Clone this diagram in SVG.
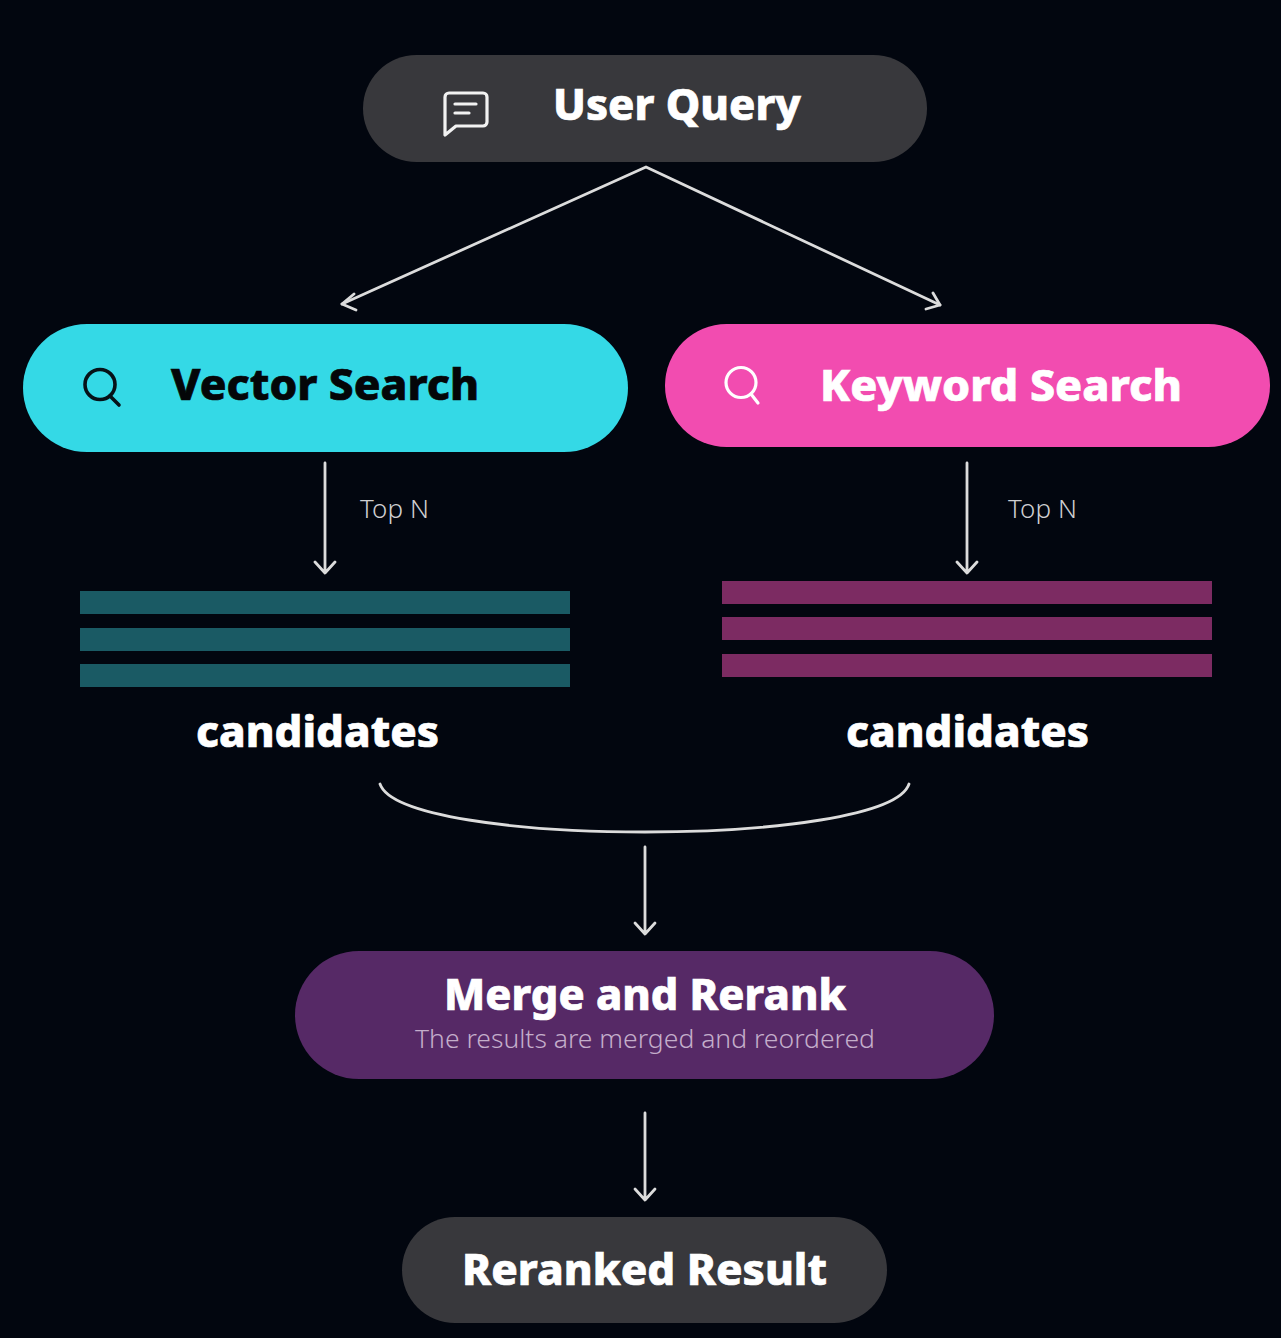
<svg xmlns="http://www.w3.org/2000/svg" width="1281" height="1338" viewBox="0 0 1281 1338">
<style>
.h{font-family:"Noto Sans","Open Sans","Liberation Sans",sans-serif;font-weight:800;font-size:43px;fill:#fff;stroke:#fff;stroke-width:.7}
.t{font-family:"Noto Sans","Open Sans","Liberation Sans",sans-serif;font-weight:300;font-size:26px;fill:#cfcfd2}
.c{fill:none;stroke:#dcdcdc;stroke-width:2.8;stroke-linecap:round;stroke-linejoin:round}
.i{fill:none;stroke-width:3.2;stroke-linecap:round;stroke-linejoin:round}
</style>
<rect width="1281" height="1338" fill="#02060f"/>
<g id="connectors" class="c">
<path d="M342 304L646 167L940 305"/>
<path d="M354 294L342 304L356 310M926 309L940 305L933 293"/>
<path d="M325 463V572M315 562L325 573L335 562"/>
<path d="M967 463V572M957 562L967 573L977 562"/>
<path d="M380 784C402 848 888 848 909 784"/>
<path d="M645 847V933M635 923L645 934L655 923"/>
<path d="M645 1113V1199M635 1189L645 1200L655 1189"/>
</g>
<g id="user-query">
<rect x="363" y="55" width="564" height="107" rx="53.5" fill="#38383c"/>
<path class="i" stroke="#f2f2f2" d="M449 93H483a4 4 0 0 1 4 4V122a4 4 0 0 1-4 4H456L445 135V97a4 4 0 0 1 4-4Z"/>
<path class="i" stroke="#f2f2f2" d="M455 104H476M455 113H469"/>
<text class="h" x="553" y="120" textLength="248" lengthAdjust="spacingAndGlyphs">User Query</text>
</g>
<g id="vector-search">
<rect x="23" y="324" width="605" height="128" rx="64" fill="#34d9e6"/>
<circle cx="100" cy="384.5" r="15" class="i" stroke="#061218" style="stroke-width:3.6"/>
<path class="i" stroke="#061218" style="stroke-width:3.6" d="M110 396L119 405"/>
<text class="h" x="171" y="400" textLength="308" lengthAdjust="spacingAndGlyphs" style="fill:#040608;stroke:#040608">Vector Search</text>
</g>
<g id="keyword-search">
<rect x="665" y="324" width="605" height="123" rx="61.5" fill="#f24cb0"/>
<circle cx="741" cy="382.5" r="15" class="i" stroke="#fff"/>
<path class="i" stroke="#fff" d="M751 394L758 403"/>
<text class="h" x="820" y="401" textLength="362" lengthAdjust="spacingAndGlyphs">Keyword Search</text>
</g>
<g id="edge-label-left"><text class="t" x="360" y="518" textLength="69">Top N</text></g>
<g id="edge-label-right"><text class="t" x="1008" y="518" textLength="69">Top N</text></g>
<g id="candidates-vector" fill="#1a5a64">
<rect x="80" y="591" width="490" height="23"/>
<rect x="80" y="628" width="490" height="23"/>
<rect x="80" y="664" width="490" height="23"/>
<text class="h" x="196" y="747" textLength="243" lengthAdjust="spacingAndGlyphs">candidates</text>
</g>
<g id="candidates-keyword" fill="#7c2b62">
<rect x="722" y="581" width="490" height="23"/>
<rect x="722" y="617" width="490" height="23"/>
<rect x="722" y="654" width="490" height="23"/>
<text class="h" x="846" y="747" textLength="243" lengthAdjust="spacingAndGlyphs">candidates</text>
</g>
<g id="merge-rerank">
<rect x="295" y="951" width="699" height="128" rx="64" fill="#562966"/>
<text class="h" x="444" y="1010" textLength="402" lengthAdjust="spacingAndGlyphs">Merge and Rerank</text>
<text class="t" x="415" y="1048" textLength="460" lengthAdjust="spacingAndGlyphs" style="fill:#c4aecb">The results are merged and reordered</text>
</g>
<g id="reranked-result">
<rect x="402" y="1217" width="485" height="106" rx="53" fill="#38383c"/>
<text class="h" x="462" y="1285" textLength="365" lengthAdjust="spacingAndGlyphs">Reranked Result</text>
</g>
</svg>
